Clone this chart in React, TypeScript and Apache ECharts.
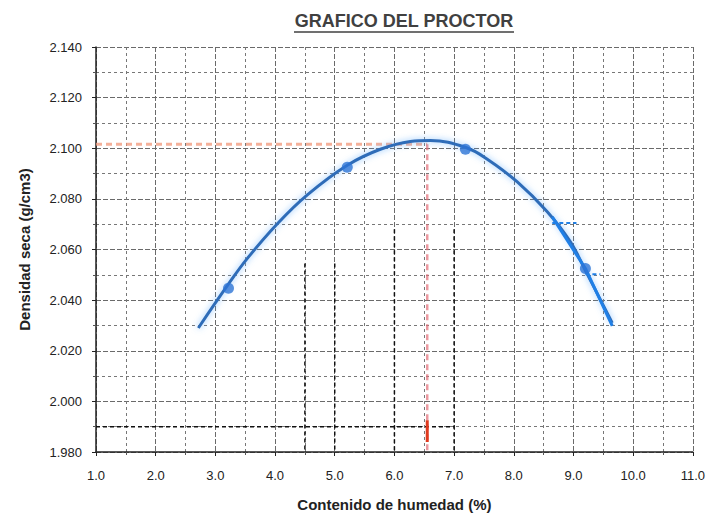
import React, { useEffect, useRef } from "react";
import * as echarts from "echarts";

const titleText = "GRAFICO DEL PROCTOR";
const xName = "Contenido de humedad (%)";
const yName = "Densidad seca (g/cm3)";

// measured points (moisture %, dry density g/cm3)
const moisture = [3.22, 5.21, 7.19, 9.2];
const density = [2.0447, 2.0925, 2.0996, 2.0525];

// fitted curve
const curveX = [2.715, 3.218, 3.536, 4.039, 4.541, 5.211, 5.764, 6.266, 6.601, 7.188, 7.556, 8.059, 8.561, 8.946, 9.198, 9.65];
const curveY = [2.029, 2.0463, 2.0565, 2.0702, 2.0816, 2.0933, 2.0996, 2.1027, 2.1031, 2.1004, 2.0957, 2.0867, 2.0749, 2.0631, 2.0518, 2.031];

// optimum
const optMoisture = 6.55;
const maxDensity = 2.1016;

// bright blue overlay segment
const segX = [8.645, 9.2, 9.65];
const segY = [2.0729, 2.0525, 2.0298];

// stray black dashed lines (cell borders behind chart)
const strayVX = [4.5, 5.0, 6.0, 7.0];
const strayVTop = [2.0545, 2.0545, 2.068, 2.068];
const strayHY = 1.99;

const xMin = 1, xMax = 11, xStep = 1;
const yMin = 1.98, yMax = 2.14, yStep = 0.02;

export default function App() {
  const ref = useRef<HTMLDivElement>(null);
  useEffect(() => {
    if (!ref.current) return;
    const chart = echarts.init(ref.current, undefined, { renderer: "svg" });
    const font = "'Liberation Sans', Arial, sans-serif";
    const blackDash = { color: "#111", width: 1.5, type: [4, 3] as any };
    const series: any[] = [
      {
        type: "line",
        data: [[xMin, maxDensity], [optMoisture, maxDensity]],
        symbol: "none",
        lineStyle: { color: "rgba(240,150,120,0.75)", width: 3, type: [6, 4] },
        z: 3,
      },
      {
        type: "line",
        data: [[optMoisture, maxDensity], [optMoisture, yMin]],
        symbol: "none",
        lineStyle: { color: "rgba(225,110,120,0.7)", width: 2.5, type: [6, 4] },
        z: 3,
      },
      {
        type: "line",
        data: [[optMoisture, 1.9925], [optMoisture, 1.984]],
        symbol: "none",
        lineStyle: { color: "#e03a1e", width: 3 },
        z: 4,
      },
    ];
    strayVX.forEach((vx, i) => {
      series.push({
        type: "line",
        data: [[vx, strayVTop[i]], [vx, yMin]],
        symbol: "none",
        lineStyle: blackDash,
        z: 2,
      });
    });
    series.push({
      type: "line",
      data: [[xMin, strayHY], [strayVX[3], strayHY]],
      symbol: "none",
      lineStyle: blackDash,
      z: 2,
    });
    series.push({
      type: "line",
      data: curveX.map((x, i) => [x, curveY[i]]),
      symbol: "none",
      smooth: 0.4,
      lineStyle: {
        color: "#2f6cb8",
        width: 3,
        shadowColor: "rgba(90,170,255,0.7)",
        shadowBlur: 6,
      },
      z: 5,
    });
    series.push({
      type: "line",
      data: segX.map((x, i) => [x, segY[i]]),
      symbol: "none",
      lineStyle: { color: "#1f7fe6", width: 3 },
      z: 6,
    });
    series.push({
      type: "line",
      data: [[8.645, 2.0705], [9.05, 2.0705]],
      symbol: "none",
      lineStyle: { color: "#1f7fe6", width: 2, type: [4, 3] },
      z: 6,
    });
    series.push({
      type: "line",
      data: [[9.2, 2.0502], [9.45, 2.0502]],
      symbol: "none",
      lineStyle: { color: "#1f7fe6", width: 2, type: [4, 3] },
      z: 6,
    });
    series.push({
      type: "scatter",
      data: moisture.map((x, i) => [x, density[i]]),
      symbol: "circle",
      symbolSize: 11,
      itemStyle: { color: "#2d74d6" },
      z: 7,
    });

    chart.setOption({
      animation: false,
      backgroundColor: "#ffffff",
      textStyle: { fontFamily: font },
      grid: { left: 96, right: 15, top: 47, bottom: 62, containLabel: false },
      xAxis: {
        type: "value",
        min: xMin,
        max: xMax,
        interval: xStep,
        name: xName,
        nameLocation: "middle",
        nameGap: 45,
        nameTextStyle: { fontSize: 15, fontWeight: "bold", color: "#222", fontFamily: font },
        axisLine: { show: true, onZero: false, lineStyle: { color: "#222", width: 1.5 } },
        axisTick: { show: true, length: 4, lineStyle: { color: "#222" } },
        axisLabel: {
          fontSize: 13,
          color: "#222",
          margin: 17,
          formatter: (v: number) => v.toFixed(1),
        },
        splitLine: { show: true, lineStyle: { color: "#6a6a6a", width: 1, type: [5, 2] } },
        minorTick: { show: true, splitNumber: 2, length: 3, lineStyle: { color: "#555" } },
        minorSplitLine: { show: true, lineStyle: { color: "#777", width: 1, type: [3, 3] } },
      },
      yAxis: {
        type: "value",
        min: yMin,
        max: yMax,
        interval: yStep,
        name: yName,
        nameLocation: "middle",
        nameRotate: 90,
        nameGap: 64,
        nameTextStyle: { fontSize: 15, fontWeight: "bold", color: "#222", fontFamily: font },
        axisLine: { show: true, onZero: false, lineStyle: { color: "#222", width: 1.5 } },
        axisTick: { show: true, length: 4, lineStyle: { color: "#222" } },
        axisLabel: {
          fontSize: 13,
          color: "#222",
          margin: 14,
          formatter: (v: number) => v.toFixed(3),
        },
        splitLine: { show: true, lineStyle: { color: "#6a6a6a", width: 1, type: [5, 2] } },
        minorTick: { show: true, splitNumber: 2, length: 3, lineStyle: { color: "#555" } },
        minorSplitLine: { show: true, lineStyle: { color: "#777", width: 1, type: [3, 3] } },
      },
      graphic: [
        {
          type: "text",
          x: 404,
          y: 21,
          style: {
            text: titleText,
            fontSize: 18,
            fontWeight: "bold",
            fill: "#404040",
            fontFamily: font,
            align: "center",
            verticalAlign: "middle",
          },
        },
        {
          type: "line",
          shape: { x1: 294, y1: 32, x2: 514, y2: 32 },
          style: { stroke: "#404040", lineWidth: 1.3 },
        },
      ],
      series,
    });
    return () => chart.dispose();
  }, []);
  return (
    <div
      ref={ref}
      style={{ position: "fixed", left: 0, top: 0, width: 708, height: 517 }}
    />
  );
}
